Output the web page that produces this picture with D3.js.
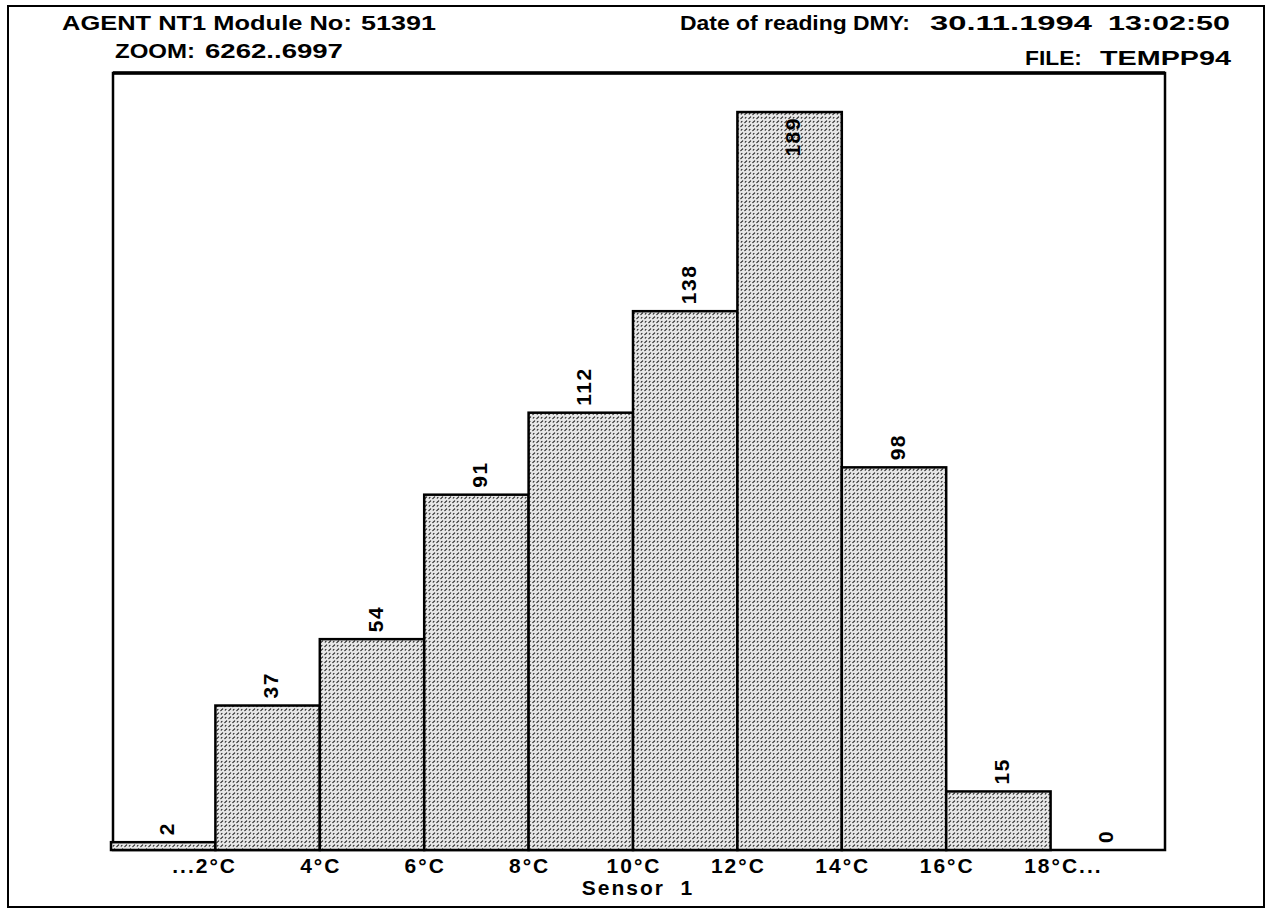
<!DOCTYPE html>
<html>
<head>
  <style>
    body { margin: 0; background: #fff; }
    text { font-family: "Liberation Sans", Arial, sans-serif; fill: #000; }
    .head { font-size: 21px; font-weight: bold; white-space: pre; }
    .tick-label { font-size: 21px; font-weight: bold; letter-spacing: 2px; }
    .bar-label { font-size: 21px; font-weight: bold; letter-spacing: 1.5px; }
    .frame { fill: none; stroke: #000; }
  </style>
  <script src="https://d3js.org/d3.v7.min.js"></script>
</head>
<body>
<div class="chart"></div>
<script>
const bins = ['b0', 'b1', 'b2', 'b3', 'b4', 'b5', 'b6', 'b7', 'b8', 'b9'];
const counts = [2, 37, 54, 91, 112, 138, 189, 98, 15, 0];
const tickLabels = ['...2°C', '4°C', '6°C', '8°C', '10°C', '12°C', '14°C', '16°C', '18°C...'];
const moduleLine = ['AGENT NT1 Module No:', '51391'];
const zoomLine = ['ZOOM:', '6262..6997'];
const dateLine = ['Date of reading DMY:', '30.11.1994', '13:02:50'];
const fileLine = ['FILE:', 'TEMPP94'];
const axisTitle = 'Sensor  1';

const width = 1269;
const height = 912;
const plot = {left: 113, top: 73, right: 1165, bottom: 850};

const svg = d3.select('.chart')
  .append('svg')
  .attr('width', width)
  .attr('height', height);

// stipple fill like the old mac pattern: short "/" flecks on light grey
const pat = svg.append('defs')
  .append('pattern')
  .attr('id', 'stipple')
  .attr('patternUnits', 'userSpaceOnUse')
  .attr('width', 8)
  .attr('height', 8);
pat.append('rect').attr('width', 8).attr('height', 8).attr('fill', '#e8e8e8');
pat.append('path')
  .attr('d', 'M0.8,2.7 L2.7,0.8 M4.8,6.7 L6.7,4.8 M5.2,2.2 L6,1.4 M1.2,6.2 L2,5.4')
  .attr('stroke', '#222')
  .attr('stroke-linecap', 'round')
  .attr('stroke-width', 1.1);

// outer frame + plot frame
svg.append('rect').attr('class', 'frame')
  .attr('x', 8).attr('y', 6).attr('width', 1256).attr('height', 901)
  .attr('stroke-width', 2);
svg.append('rect').attr('class', 'frame')
  .attr('x', plot.left).attr('y', plot.top)
  .attr('width', plot.right - plot.left).attr('height', plot.bottom - plot.top)
  .attr('stroke-width', 2.5);
svg.append('line')
  .attr('x1', plot.left).attr('x2', plot.right)
  .attr('y1', plot.top).attr('y2', plot.top)
  .attr('stroke', '#000').attr('stroke-width', 3.5);

// header pieces: the printer font is wider than ours, so stretch each piece to its span
function head(str, x0, x1, y) {
  const t = svg.append('text').attr('class', 'head').text(str);
  const w = t.node().getComputedTextLength();
  t.attr('transform', `translate(${x0},${y}) scale(${(x1 - x0) / w},1)`);
}
head(moduleLine[0], 62, 352, 30);
head(moduleLine[1], 361, 436, 30);
head(zoomLine[0], 115, 195, 58);
head(zoomLine[1], 205, 343, 58);
head(dateLine[0], 680, 910, 30);
head(dateLine[1], 930, 1092, 30);
head(dateLine[2], 1108, 1230, 30);
head(fileLine[0], 1025, 1082, 65);
head(fileLine[1], 1100, 1231, 65);

const x = d3.scaleBand()
  .domain(bins)
  .range([plot.left - 2, plot.left - 2 + 1044])
  .paddingInner(0);

const y = d3.scaleLinear()
  .domain([0, 199])
  .range([plot.bottom, plot.top]);

// bars
svg.append('g')
  .selectAll('rect')
  .data(counts)
  .join('rect')
  .attr('x', (d, i) => x(bins[i]))
  .attr('y', d => y(d))
  .attr('width', x.bandwidth())
  .attr('height', d => y(0) - y(d))
  .attr('fill', 'url(#stipple)')
  .attr('stroke', d => d > 0 ? '#000' : 'none')
  .attr('stroke-width', 2.5);

// value labels, rotated, above the bar or inside if no room
svg.append('g')
  .selectAll('text')
  .data(counts)
  .join('text')
  .attr('class', 'bar-label')
  .text(d => d)
  .each(function(d, i) {
    const len = this.getComputedTextLength();
    const cx = x(bins[i]) + x.bandwidth() / 2 + 3;
    const top = y(d);
    let ty, anchor;
    if (top - 8 - len < plot.top + 4) {
      ty = top + 5; anchor = 'end';
    } else {
      ty = top - 7; anchor = 'start';
    }
    d3.select(this)
      .attr('text-anchor', anchor)
      .attr('dy', '0.36em')
      .attr('transform', `translate(${cx},${ty}) rotate(-90)`);
  });

// tick labels sit on the bar boundaries
svg.append('g')
  .selectAll('text')
  .data(tickLabels)
  .join('text')
  .attr('class', 'tick-label')
  .attr('y', 873)
  .text(d => d)
  .each(function(d, i) {
    const bx = x(bins[i + 1]) + 1;
    const core = d.replace(/\./g, '');
    const tmp = svg.append('text').attr('class', 'tick-label').text(core);
    const cw = tmp.node().getComputedTextLength();
    tmp.remove();
    const sel = d3.select(this);
    if (d.startsWith('...')) {
      sel.attr('text-anchor', 'end').attr('x', bx + cw / 2);
    } else if (d.endsWith('...')) {
      sel.attr('text-anchor', 'start').attr('x', bx - cw / 2);
    } else {
      sel.attr('text-anchor', 'middle').attr('x', bx);
    }
  });

svg.append('text')
  .attr('class', 'tick-label')
  .attr('x', 638).attr('y', 895)
  .attr('text-anchor', 'middle')
  .style('white-space', 'pre')
  .text(axisTitle);
</script>
</body>
</html>
